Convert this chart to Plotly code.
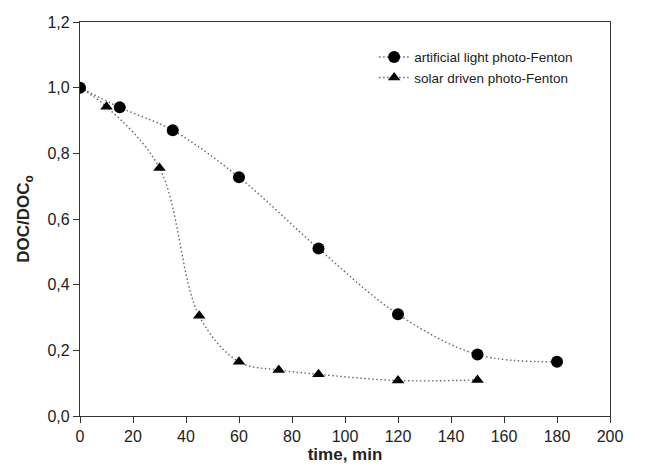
import plotly.graph_objects as go

time_art = [0, 15, 35, 60, 90, 120, 150, 180]
doc_art = [1.0, 0.94, 0.87, 0.727, 0.51, 0.31, 0.187, 0.165]

time_sol = [10, 30, 45, 60, 75, 90, 120, 150]
doc_sol = [0.942, 0.755, 0.305, 0.165, 0.14, 0.127, 0.108, 0.11]

x_ticks = [0, 20, 40, 60, 80, 100, 120, 140, 160, 180, 200]
y_ticks = [0.0, 0.2, 0.4, 0.6, 0.8, 1.0, 1.2]
y_labels = ["0,0", "0,2", "0,4", "0,6", "0,8", "1,0", "1,2"]

line_style = dict(color="#666666", width=1.4, dash="1.5px,2.5px", shape="spline", smoothing=1.0)

fig = go.Figure()
fig.add_trace(go.Scatter(
    x=[0] + time_sol, y=[1.0] + doc_sol, mode="lines+markers",
    name="solar driven photo-Fenton",
    line=line_style,
    marker=dict(symbol="triangle-up", size=11, color="black"),
    legendrank=2,
))
fig.add_trace(go.Scatter(
    x=time_art, y=doc_art, mode="lines+markers",
    name="artificial light photo-Fenton",
    line=line_style,
    marker=dict(symbol="circle", size=12, color="black"),
    legendrank=1,
))

font = "Liberation Sans, Arial, sans-serif"
fig.update_layout(
    width=651, height=472,
    margin=dict(l=80, r=41, t=22, b=51),
    paper_bgcolor="white", plot_bgcolor="white",
    font=dict(family=font, size=16, color="#222222"),
    showlegend=True,
    legend=dict(x=0.555, y=0.95, xanchor="left", yanchor="top",
                font=dict(family=font, size=13.5, color="#222222"),
                bgcolor="rgba(0,0,0,0)", itemwidth=30, tracegroupgap=0),
    xaxis=dict(range=[0, 200], tickvals=x_ticks, ticks="outside", ticklen=6,
               tickcolor="#333333", showline=True, linecolor="#333333", linewidth=1.3,
               mirror=True, showgrid=False, zeroline=False,
               title=dict(text="<b>time, min</b>", standoff=3,
                          font=dict(family=font, size=17, color="#222222"))),
    yaxis=dict(range=[0, 1.2], tickvals=y_ticks, ticktext=y_labels, ticks="outside",
               ticklen=6, tickcolor="#333333", showline=True, linecolor="#333333",
               linewidth=1.3, mirror=True, showgrid=False, zeroline=False,
               title=dict(text="<b>DOC/DOC<sub>o</sub></b>", standoff=13,
                          font=dict(family=font, size=17, color="#222222"))),
)

fig.write_html("out.html")
